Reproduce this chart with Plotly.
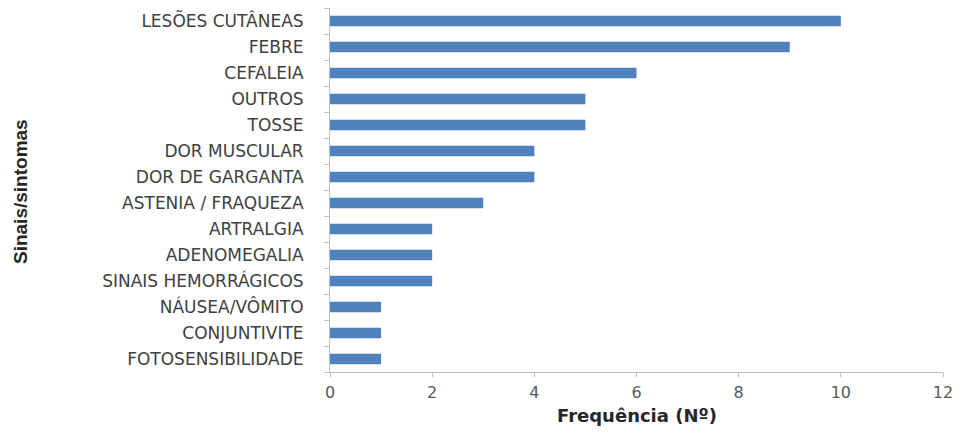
import plotly.graph_objects as go

categories = ["LESÕES CUTÂNEAS", "FEBRE", "CEFALEIA", "OUTROS", "TOSSE",
              "DOR MUSCULAR", "DOR DE GARGANTA", "ASTENIA / FRAQUEZA",
              "ARTRALGIA", "ADENOMEGALIA", "SINAIS HEMORRÁGICOS",
              "NÁUSEA/VÔMITO", "CONJUNTIVITE", "FOTOSENSIBILIDADE"]
values = [10, 9, 6, 5, 5, 4, 4, 3, 2, 2, 2, 1, 1, 1]
x_ticks = [0, 2, 4, 6, 8, 10, 12]

W, H = 961, 434
L, R, T, B = 322, 26, 0, 70

fig = go.Figure(go.Bar(
    x=values, y=categories, orientation="h",
    marker=dict(color="#4F81BD", line=dict(width=0)),
))

fig.update_layout(
    width=W, height=H,
    margin=dict(l=L, r=R, t=T, b=B, autoexpand=False),
    paper_bgcolor="white", plot_bgcolor="white",
    bargap=0.6, showlegend=False,
    font=dict(family="DejaVu Sans", color="#404040"),
)
fig.update_xaxes(
    range=[0, 12], tickvals=x_ticks, showgrid=False, zeroline=False,
    showline=True, linecolor="#BFBFBF", linewidth=1,
    ticks="outside", ticklen=4, tickcolor="#BFBFBF",
    tickfont=dict(size=16, color="#595959", family="DejaVu Sans"),
    ticklabelstandoff=2, automargin=False,
)
fig.update_yaxes(
    categoryorder="array", categoryarray=categories[::-1],
    showgrid=False, showline=True, linecolor="#BFBFBF", linewidth=1,
    ticks="outside", ticklen=5, tickcolor="#BFBFBF", tickson="boundaries",
    tickfont=dict(size=17, color="#404040", family="DejaVu Sans"),
    ticklabelstandoff=22, automargin=False,
)

plot_w = W - L - R
plot_h = H - T - B
fig.add_annotation(
    text="<b>Frequência (Nº)</b>", xref="paper", yref="paper",
    x=0.5, y=(plot_h - 407) / plot_h, xanchor="center", yanchor="middle",
    showarrow=False, font=dict(size=18, family="DejaVu Sans", color="#262626"),
)
fig.add_annotation(
    text="<b>Sinais/sintomas</b>", xref="paper", yref="paper",
    x=(12 - L) / plot_w, y=(plot_h - 184) / plot_h, xanchor="center", yanchor="middle",
    textangle=-90, showarrow=False,
    font=dict(size=19, family="Liberation Sans", color="#262626"),
)

fig.write_html("out.html")
